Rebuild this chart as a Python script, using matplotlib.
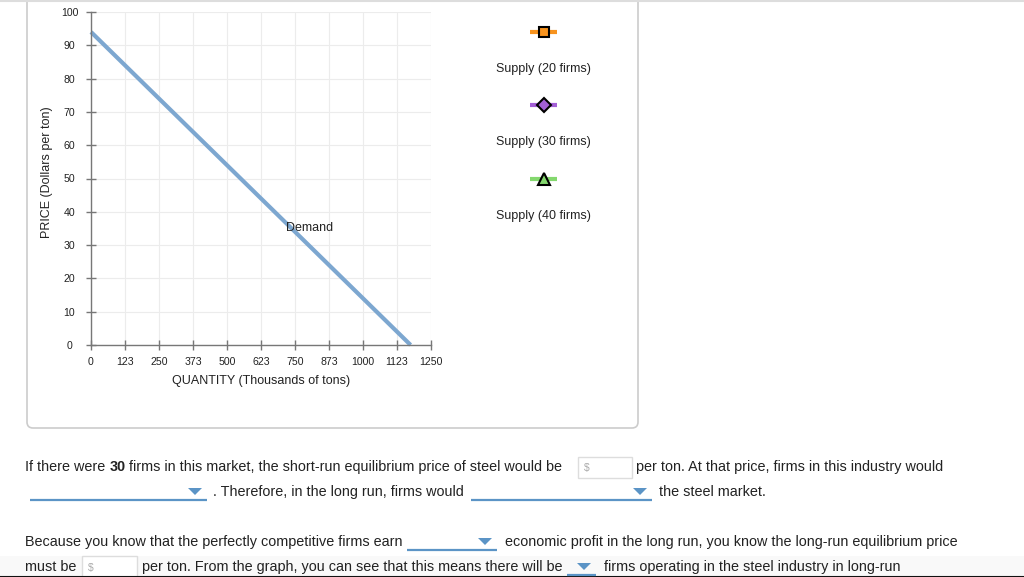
import matplotlib
matplotlib.use('Agg')
import matplotlib.pyplot as plt
from matplotlib.patches import FancyBboxPatch, Rectangle, Polygon

plt.rcParams['font.family'] = ['Liberation Sans', 'DejaVu Sans']

# ---------------- data ----------------
quantity_ticks = [0, 125, 250, 375, 500, 625, 750, 875, 1000, 1125, 1250]
quantity_labels = ["0", "123", "250", "373", "500", "623", "750", "873", "1000", "1123", "1250"]
price_ticks = [0, 10, 20, 30, 40, 50, 60, 70, 80, 90, 100]
demand_quantity = [0, 1175]
demand_price = [94, 0]
demand_label_pos = (717, 35)
supply_names = ["Supply (20 firms)", "Supply (30 firms)", "Supply (40 firms)"]
supply_colors = ["#F7931E", "#A35FD6", "#84D86E"]
supply_markers = ["s", "D", "^"]

W, H = 1024, 577
fig = plt.figure(figsize=(W / 100, H / 100), dpi=100)

# page overlay in pixel coordinates
page = fig.add_axes([0, 0, 1, 1], zorder=0)
page.set_xlim(0, W)
page.set_ylim(H, 0)
page.axis('off')

# page decorations
page.plot([0, W], [1, 1], color='#dddddd', lw=1.5)
panel = FancyBboxPatch((27, -20), 611, 448, boxstyle='round,pad=0,rounding_size=6',
                       ec='#cccccc', fc='white', lw=1.2)
page.add_patch(panel)
page.add_patch(Rectangle((0, 556), W, 20, fc='#f9f9f9', ec='none'))
page.plot([0, W], [576.5, 576.5], color='#111111', lw=1.5)

# ---------------- chart ----------------
ax = fig.add_axes([91 / W, (H - 345) / H, 340 / W, 333 / H], zorder=2)
ax.patch.set_alpha(0)
ax.set_xlim(0, 1250)
ax.set_ylim(0, 100)
ax.set_xticks(quantity_ticks)
ax.set_xticklabels(quantity_labels)
ax.set_yticks(price_ticks)
ax.grid(color='#ececec', lw=0.8)
ax.set_axisbelow(True)
for s in ['top', 'right']:
    ax.spines[s].set_visible(False)
for s in ['left', 'bottom']:
    ax.spines[s].set_color('#777777')
    ax.spines[s].set_linewidth(1)
ax.tick_params(direction='inout', length=7, width=1, color='#777777',
               labelsize=7.6, labelcolor='#222222')
ax.tick_params(axis='x', pad=5)
ax.tick_params(axis='y', pad=12)
for lab in ax.get_yticklabels():
    lab.set_ha('center')

ax.plot(demand_quantity, demand_price, color='#7DA7D0', lw=3, clip_on=False,
        solid_capstyle='butt')
ax.text(demand_label_pos[0], demand_label_pos[1], "Demand", fontsize=9,
        color='#222222', ha='left', va='center')

ax.set_xlabel("QUANTITY (Thousands of tons)", fontsize=9, color='#222222', labelpad=6)
ax.set_ylabel("PRICE (Dollars per ton)", fontsize=9, color='#222222')
ax.yaxis.set_label_coords(-38 / 340, 0.52)

# legend (manual, drawn in page pixels)
legend_y = [32, 105, 179]
for name, col, mk, y in zip(supply_names, supply_colors, supply_markers, legend_y):
    page.plot([530, 557], [y, y], color=col, lw=3, solid_capstyle='butt', zorder=3)
    ms = 7.5 if mk != '^' else 8.5
    page.plot([543.5], [y], marker=mk, ms=ms, mfc=col, mec='black', mew=1.5, zorder=4)
    page.text(543, y + 37, name, fontsize=9, color='#222222', ha='center', va='center')

# ---------------- question text ----------------
FS = 10.35
TXT = '#222222'
renderer = fig.canvas.get_renderer()


def chain(x, y, parts):
    for p in parts:
        if isinstance(p, tuple):
            s, w = p
        else:
            s, w = p, 'normal'
        t = page.text(x, y, s, fontsize=FS, color=TXT, fontweight=w,
                      ha='left', va='center')
        bb = t.get_window_extent(renderer=renderer)
        x = bb.x1


def dropdown(x0, x1, y):
    page.plot([x0, x1], [y + 8, y + 8], color='#5B94C6', lw=1.6, solid_capstyle='butt')
    xt = x1 - 12
    page.add_patch(Polygon([(xt - 7, y - 4), (xt + 7, y - 4), (xt, y + 3)],
                           closed=True, fc='#5B94C6', ec='none'))


def inputbox(x0, x1, y0, y1):
    page.add_patch(Rectangle((x0, y0), x1 - x0, y1 - y0, fc='white', ec='#dddddd', lw=1))
    page.text(x0 + 6, (y0 + y1) / 2, "$", fontsize=7.5, color='#aaaaaa',
              ha='left', va='center')


y1 = 467
chain(25, y1, ["If there were ", ("30", 'bold'),
               " firms in this market, the short-run equilibrium price of steel would be"])
inputbox(578, 632, 457, 478)
chain(636, y1, ["per ton. At that price, firms in this industry would"])

y2 = 492
dropdown(30, 207, y2)
chain(213, y2, [". Therefore, in the long run, firms would"])
dropdown(471, 652, y2)
chain(659, y2, ["the steel market."])

y3 = 542
chain(25, y3, ["Because you know that the perfectly competitive firms earn"])
dropdown(407, 497, y3)
chain(505, y3, ["economic profit in the long run, you know the long-run equilibrium price"])

y4 = 567
chain(25, y4, ["must be"])
inputbox(82, 137, 556, 580)
chain(142, y4, ["per ton. From the graph, you can see that this means there will be"])
dropdown(567, 596, y4)
chain(604, y4, ["firms operating in the steel industry in long-run"])

fig.savefig('out.png', dpi=100)
